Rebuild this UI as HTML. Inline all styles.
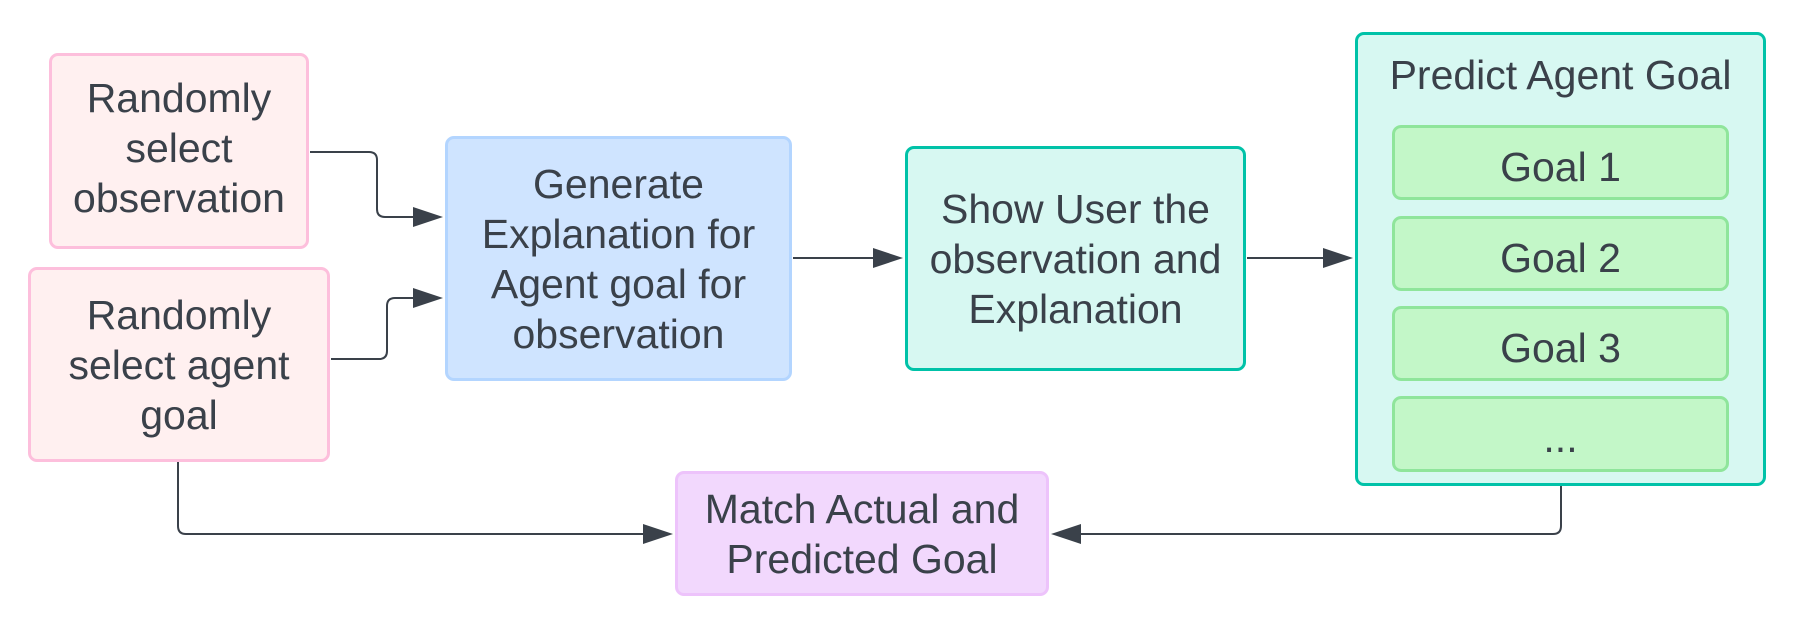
<!DOCTYPE html>
<html><head><meta charset="utf-8"><style>
html,body{margin:0;padding:0;background:#fff;}
body{width:1813px;height:636px;position:relative;overflow:hidden;font-family:"Liberation Sans",sans-serif;color:#3a414a;}
.b{position:absolute;box-sizing:border-box;border-radius:9px;border:3px solid;display:flex;align-items:center;justify-content:center;text-align:center;font-size:41px;line-height:50px;}
.pink{background:#fff0f0;border-color:#fdbfdc;}
.blue{background:#cfe4ff;border-color:#b3d5ff;}
.teal{background:#d7f8f2;border-color:#00c2a8;}
.green{background:#c3f7c8;border-color:#8fe59b;padding-top:8px;}
.purple{background:#f2d8fd;border-color:#edc3fb;}
svg{position:absolute;left:0;top:0;}
</style></head><body>
<div class="b pink" style="left:49px;top:53px;width:260px;height:196px;padding-bottom:6px;">Randomly<br>select<br>observation</div>
<div class="b pink" style="left:28px;top:267px;width:302px;height:195px;">Randomly<br>select agent<br>goal</div>
<div class="b blue" style="left:445px;top:136px;width:347px;height:245px;">Generate<br>Explanation for<br>Agent goal for<br>observation</div>
<div class="b teal" style="left:905px;top:146px;width:341px;height:225px;">Show User the<br>observation and<br>Explanation</div>
<div class="b purple" style="left:675px;top:471px;width:374px;height:125px;">Match Actual and<br>Predicted Goal</div>
<div class="b teal" style="left:1355px;top:32px;width:411px;height:454px;align-items:flex-start;padding-top:15px;">Predict Agent Goal</div>
<div class="b green" style="left:1392px;top:125px;width:337px;height:75px;">Goal 1</div>
<div class="b green" style="left:1392px;top:216px;width:337px;height:75px;">Goal 2</div>
<div class="b green" style="left:1392px;top:306px;width:337px;height:75px;">Goal 3</div>
<div class="b green" style="left:1392px;top:396px;width:337px;height:76px;">...</div>
<svg width="1813" height="636" viewBox="0 0 1813 636">
<g fill="none" stroke="#3a414a" stroke-width="2">
<path d="M310 152 H369 Q377 152 377 160 V209 Q377 217 385 217 H415"/>
<path d="M331 359 H379 Q387 359 387 351 V306 Q387 298 395 298 H415"/>
<path d="M793 258 H875"/>
<path d="M1247 258 H1325"/>
<path d="M178 462 V526 Q178 534 186 534 H645"/>
<path d="M1561 486 V526 Q1561 534 1553 534 H1080"/>
</g>
<g fill="#3a414a">
<path d="M413 207 L443 217 L413 227Z"/>
<path d="M413 288 L443 298 L413 308Z"/>
<path d="M873 248 L903 258 L873 268Z"/>
<path d="M1323 248 L1353 258 L1323 268Z"/>
<path d="M643 524 L673 534 L643 544Z"/>
<path d="M1081 524 L1051 534 L1081 544Z"/>
</g>
</svg>
</body></html>
